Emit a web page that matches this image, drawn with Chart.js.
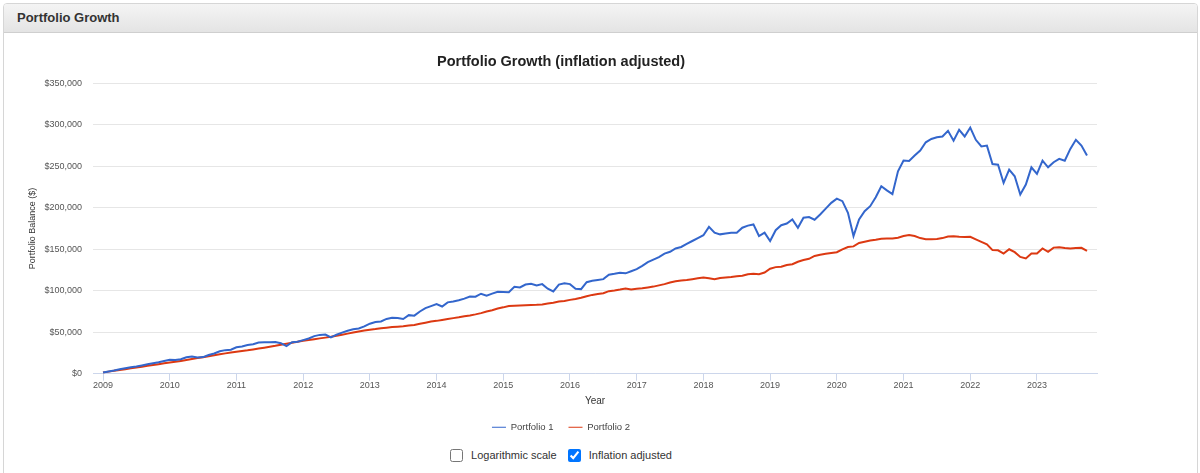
<!DOCTYPE html>
<html>
<head>
<meta charset="utf-8">
<script src="https://cdn.jsdelivr.net/npm/chart.js@4/dist/chart.umd.min.js"></script>
<style>
  body { margin: 0; background: #fff; font-family: "Liberation Sans", Arial, sans-serif; }
  .panel { position: absolute; left: 3px; top: 3px; width: 1193px; height: 480px; border: 1px solid #d6d6d6; border-radius: 4px; overflow: hidden; }
  .panel-head { height: 28px; background: linear-gradient(#f4f4f4, #e4e4e4); border-bottom: 1px solid #cfcfcf; color: #333; font-weight: bold; font-size: 13px; line-height: 28px; padding-left: 13px; }
  #box { position: absolute; left: 4px; top: 36px; width: 1114px; height: 410px; }
  .opts { position: absolute; left: 0; top: 449px; width: 1122px; text-align: center; font-size: 11px; color: #333; }
  .opts label { margin: 0 4px; }
  .opts input { vertical-align: -3px; margin: 0 5px 0 0; width: 13px; height: 13px; }
</style>
</head>
<body>
<div class="panel"><div class="panel-head">Portfolio Growth</div></div>
<div id="box"><canvas id="myChart"></canvas></div>
<div class="opts">
  <label><input type="checkbox"> Logarithmic scale</label>
  <label><input type="checkbox" checked> Inflation adjusted</label>
</div>
<script>
const startYear = 2009;   // first month = Jan 2009, one value per month
const yearTicks = [2009, 2010, 2011, 2012, 2013, 2014, 2015, 2016, 2017, 2018, 2019, 2020, 2021, 2022, 2023];
const balanceTicks = [0, 50000, 100000, 150000, 200000, 250000, 300000, 350000];
const seriesNames = ['Portfolio 1', 'Portfolio 2'];

const p1 = [
  1500, 2600, 3800, 5400, 6600, 7700, 8700, 10000, 11300, 12700, 13800, 15200,
  16700, 16500, 17500, 19800, 20600, 19500, 20000, 22600, 24300, 27000, 28400, 29000,
  31800, 32800, 34500, 35500, 37700, 37800, 38000, 38100, 36800, 33300, 38000, 38500,
  40500, 42500, 45300, 46800, 47200, 43700, 47000, 49500, 51800, 53600, 54500, 57000,
  60300, 62300, 63000, 66000, 67500, 67200, 66000, 70600, 70000, 75000, 79000, 81500,
  84000, 81000, 86000, 87000, 88500, 90500, 93000, 92800, 96400, 94000, 96500, 98800,
  98500, 98300, 104800, 104000, 107500, 108300, 106300, 108000, 102400, 99200, 107500, 109000,
  108000, 102400, 102000, 110300, 112000, 113000, 114000, 119400, 120500, 121800, 121000, 123500,
  126000, 130000, 134500, 137500, 140600, 144800, 147000, 151000, 152800, 156500, 160000, 163500,
  167000, 177000, 170000, 168000, 169000, 170000, 170000, 176000, 178500, 180000, 166000, 170000,
  160000, 173000, 179000, 181000, 186000, 176000, 188000, 188800, 185600, 192000, 199000, 206000,
  211000, 208000, 194000, 166000, 186000, 196000, 202000, 212800, 226000, 221000, 216500, 244000,
  257000, 256500, 263000, 269000, 279000, 283000, 285000, 286000, 292800, 281000, 294000, 286000,
  296800, 282000, 274000, 275000, 252800, 252000, 230000, 246000, 238000, 216000, 228000, 248800,
  240800, 256800, 248800, 255000, 259000, 256800, 271000, 282000, 275000, 263000
];

const p2 = [
  1500, 2500, 3500, 4500, 5500, 6500, 7500, 8500, 9500, 10500, 11500, 12500,
  13500, 14400, 15400, 16500, 17600, 18800, 19900, 21000, 22200, 23400, 24500, 25600,
  26600, 27500, 28300, 29300, 30300, 31400, 32600, 33700, 35000, 36200, 37400, 38500,
  39700, 40500, 41500, 42600, 43500, 44500, 45800, 47000, 48300, 49600, 50800, 52000,
  53000, 53800, 54800, 55500, 56300, 56700, 57200, 58000, 58800, 60200, 61500, 62800,
  63700, 64800, 65900, 67000, 68000, 69300, 70200, 71500, 73000, 75000, 76500, 78500,
  80000, 81700, 82000, 82200, 82500, 82800, 83000, 83500, 84500, 85500, 87000, 87700,
  89000, 90000, 91500, 93300, 95000, 96000, 97000, 99500, 100400, 101500, 102800, 101600,
  102500, 103000, 104000, 105000, 106500, 108000, 110000, 111500, 112500, 113000, 114000, 115000,
  116000, 115000, 114000, 115500, 116000, 116500, 117500, 118000, 120000, 120500, 120000, 122000,
  126500, 128500, 129000, 131000, 132000, 135000, 137000, 138500, 142000, 143500, 144500, 145500,
  146500, 150000, 152800, 153500, 157600, 159000, 160500, 161500, 162800, 163000, 163000, 164000,
  166000, 167200, 166000, 163500, 162000, 162000, 162500, 163500, 165500, 165800, 165000, 164800,
  165000, 162000, 159000, 156000, 149000, 148800, 144800, 150000, 146500, 140800, 139000, 144800,
  145000, 151000, 147000, 152000, 152500, 151500, 151000, 151500, 151800, 148000
];

const toPoints = arr => arr.map((v, i) => ({ x: startYear + i / 12, y: v }));
const money = v => '$' + Number(v).toLocaleString('en-US');

const ctxt = document.getElementById('myChart').getContext('2d');

const myChart = new Chart(ctxt, {
  type: 'line',
  data: {
    datasets: [
      { label: seriesNames[0], data: toPoints(p1), borderColor: '#3366cc', backgroundColor: '#3366cc' },
      { label: seriesNames[1], data: toPoints(p2), borderColor: '#dc3912', backgroundColor: '#dc3912' }
    ]
  },
  options: {
    responsive: true,
    maintainAspectRatio: false,
    animation: false,
    elements: {
      line: { borderWidth: 2, tension: 0 },
      point: { radius: 0 }
    },
    // equal side padding keeps title and legend centred like the original
    layout: { padding: { left: 21, right: 21, bottom: 4 } },
    plugins: {
      title: {
        display: true,
        text: 'Portfolio Growth (inflation adjusted)',
        color: '#222',
        font: { family: 'Liberation Sans', size: 14.5, weight: 'bold' },
        padding: { top: 17, bottom: 13 }
      },
      legend: {
        position: 'bottom',
        labels: {
          usePointStyle: true,
          pointStyle: 'line',
          pointStyleWidth: 14,
          color: '#444',
          padding: 15,
          font: { family: 'Liberation Sans', size: 9.5 }
        }
      },
      tooltip: { enabled: false }
    },
    scales: {
      x: {
        type: 'linear',
        min: 2008.85,
        max: 2023.9,
        afterBuildTicks: scale => { scale.ticks = yearTicks.map(v => ({ value: v })); },
        ticks: {
          color: '#555',
          padding: -1,
          maxRotation: 0,
          font: { family: 'Liberation Sans', size: 9 },
          callback: v => String(v)
        },
        grid: { drawOnChartArea: false, drawTicks: true, tickLength: 7, color: '#ccd6eb' },
        border: { color: '#ccd6eb' },
        title: {
          display: true,
          text: 'Year',
          color: '#333',
          font: { family: 'Liberation Sans', size: 10 },
          padding: { top: 6, bottom: 0 }
        }
      },
      y: {
        min: 0,
        max: 350000,
        afterBuildTicks: scale => { scale.ticks = balanceTicks.map(v => ({ value: v })); },
        afterFit: scale => { scale.width = 68; },
        ticks: {
          color: '#555',
          padding: 11,
          font: { family: 'Liberation Sans', size: 9 },
          callback: v => money(v)
        },
        grid: { color: '#e6e6e6', drawTicks: false },
        border: { display: false },
        title: {
          display: true,
          text: 'Portfolio Balance ($)',
          color: '#333',
          font: { family: 'Liberation Sans', size: 9 },
          padding: { top: 2.5, bottom: 4 }
        }
      }
    }
  }
});
</script>
</body>
</html>
